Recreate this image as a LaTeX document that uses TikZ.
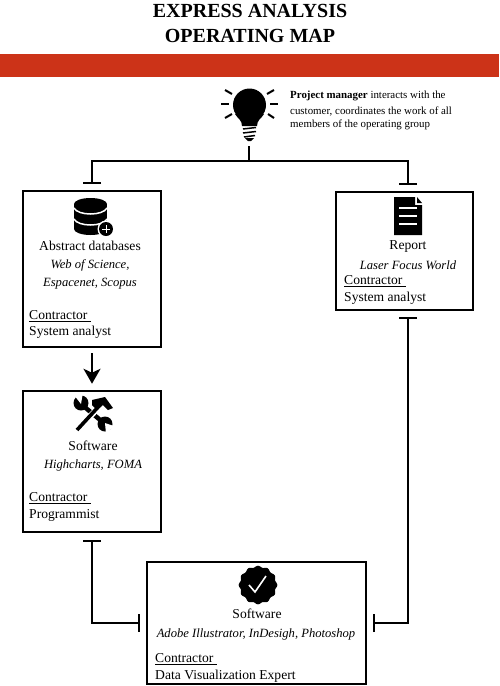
\documentclass[tikz,border=0pt]{standalone}
\usepackage{fontspec}
\setmainfont{Liberation Serif}
\usetikzlibrary{arrows.meta}
\definecolor{barred}{HTML}{CC3318}
\tikzset{
    frame/.style={draw, line width=2.5pt, minimum width=#1, inner sep=0pt},
    wire/.style={line width=2.2pt},
    tee/.style={wire, -{Bar[width=18pt,line width=2.2pt]}, shorten >=6pt},
    teetee/.style={wire, {Bar[width=18pt,line width=2.2pt]}-{Bar[width=18pt,line width=2.2pt]}, shorten <=7pt, shorten >=6pt},
    heading/.style={font=\bfseries\fontsize{20}{20}\selectfont, inner sep=0pt},
    lab/.style={font=\fontsize{13.6}{14}\selectfont, inner sep=0pt, yshift=-1pt},
    itlab/.style={font=\itshape\fontsize{12.6}{14}\selectfont, inner sep=0pt, yshift=-1pt},
    leftlab/.style={lab, anchor=west},
    note/.style={font=\fontsize{10.9}{12}\selectfont, inner sep=0pt, anchor=west}
}
\begin{document}
\begin{tikzpicture}[x=1pt, y=-1pt]
    \useasboundingbox (0,0) rectangle (499,686);

    \node[heading] (title1) at (250,11) {EXPRESS ANALYSIS};
    \node[heading] (title2) at (250,36) {OPERATING MAP};
    \fill[barred] (0,54) rectangle (499,77);

    % boxes
    \node[frame=138pt, minimum height=156pt] (abstract) at (92,269) {};
    \node[frame=138pt, minimum height=141pt] (software) at (92,461.5) {};
    \node[frame=137pt, minimum height=118pt] (report) at (404.5,251) {};
    \node[frame=219pt, minimum height=122pt] (final) at (256.5,623) {};

    % bulb
    \fill (249.5,105) circle (16.5);
    \fill (235,114) .. controls (238,119) and (242,120) .. (242,126) -- (257,126) .. controls (257,120) and (261,119) .. (264,114) -- cycle;
    \draw[line width=1.5pt] (243,129) -- (256,127.5);
    \draw[line width=1.5pt] (243,133) -- (256,131.5);
    \draw[line width=1.5pt] (244,137) -- (255,135.5);
    \fill (245,138) -- (254,138) -- (251,141) -- (248,141) -- cycle;
    \draw[line width=2pt] (225,90) -- (232,94);
    \draw[line width=2pt] (221,104) -- (229,104);
    \draw[line width=2pt] (225,118) -- (232,114);
    \draw[line width=2pt] (267,94) -- (274,90);
    \draw[line width=2pt] (270,104) -- (278,104);
    \draw[line width=2pt] (268,114) -- (274,118);

    % database
    \fill (90.5,204) ellipse (16.5 and 6);
    \fill (74,204) rectangle (107,229);
    \fill (90.5,229) ellipse (16.5 and 6);
    \draw[white, line width=1.5pt] (74,208) .. controls (78,216) and (103,216) .. (107,208);
    \draw[white, line width=1.5pt] (74,219) .. controls (78,227) and (103,227) .. (107,219);
    \fill[white] (106,229) circle (8.5);
    \fill (106,229) circle (7);
    \draw[white, line width=1pt] (102,229) -- (110,229) (106,225) -- (106,233);

    % document
    \fill (394,197) -- (415,197) -- (415,205) -- (422,205) -- (422,235) -- (394,235) -- cycle;
    \fill (417,197) -- (422,203) -- (417,203) -- cycle;
    \foreach \ly in {208,216,224}
        \draw[white, line width=1.6pt] (399,\ly) -- (417,\ly);

    % tools
    \draw[line width=4.5pt] (81,404) -- (105,424);
    \fill (81,403) circle (7.5);
    \fill (105,424) circle (7.5);
    \fill[white] (81,404) -- (74,395) -- (83,392) -- cycle;
    \fill[white] (105,423) -- (114,426) -- (106,434) -- cycle;
    \draw[white, line width=6pt] (78,429) -- (99,407);
    \draw[line width=3.6pt] (77,430) -- (100,405);
    \fill (92,400) -- (105,397) -- (113,408) -- (108,410) -- (103,405) -- (97,410) -- (92,405) -- cycle;

    % seal
    \fill plot[domain=0:360, samples=121, smooth] ({258+(18.5+0.8*cos(12*\x))*cos(\x)},{585+(18.5+0.8*cos(12*\x))*sin(\x)});
    \draw[white, line width=1.6pt] (249,585) -- (255,592) -- (266,576);

    % texts
    \node[note] (pm1) at (290,96) {\textbf{Project manager} interacts with the};
    \node[note] (pm2) at (290,111) {customer, coordinates the work of all};
    \node[note] (pm3) at (290,125) {members of the operating group};

    \node[lab] (abstract1) at (90,245) {Abstract databases};
    \node[itlab] (abstract2) at (90,264) {Web of Science,};
    \node[itlab] (abstract3) at (90,283) {Espacenet, Scopus};
    \node[leftlab] (abstract4) at (29,315) {\underline{Contractor\ }};
    \node[leftlab] (abstract5) at (29,331) {System analyst};

    \node[lab] (report1) at (408,245) {Report};
    \node[itlab] (report2) at (408,264) {Laser Focus World};
    \node[leftlab] (report3) at (344,280) {\underline{Contractor\ }};
    \node[leftlab] (report4) at (344,297) {System analyst};

    \node[lab] (software1) at (93,445) {Software};
    \node[itlab] (software2) at (93,464) {Highcharts, FOMA};
    \node[leftlab] (software3) at (29,497) {\underline{Contractor\ }};
    \node[leftlab] (software4) at (29,514) {Programmist};

    \node[lab] (final1) at (257,613) {Software};
    \node[itlab] (final2) at (256,633) {Adobe Illustrator, InDesigh, Photoshop};
    \node[leftlab] (final3) at (155,658) {\underline{Contractor\ }};
    \node[leftlab] (final4) at (155,675) {Data Visualization Expert};

    % connectors
    \coordinate (bulbfoot) at (249,146);
    \coordinate (split) at (249,161);
    \coordinate (reportin) at (408,191);
    \coordinate (reportout) at (408,310);

    \draw[wire] (bulbfoot) -- (split);
    \draw[tee] (split) -| (abstract.north);
    \draw[tee] (split) -| (reportin);
    \draw[wire, -{Stealth[length=15pt,width=17pt,inset=4pt]}, shorten <=5pt, shorten >=6pt] (abstract.south) -- (software.north);
    \draw[teetee] (software.south) |- (final.west);
    \draw[teetee] (reportout) |- (final.east);
\end{tikzpicture}
\end{document}
